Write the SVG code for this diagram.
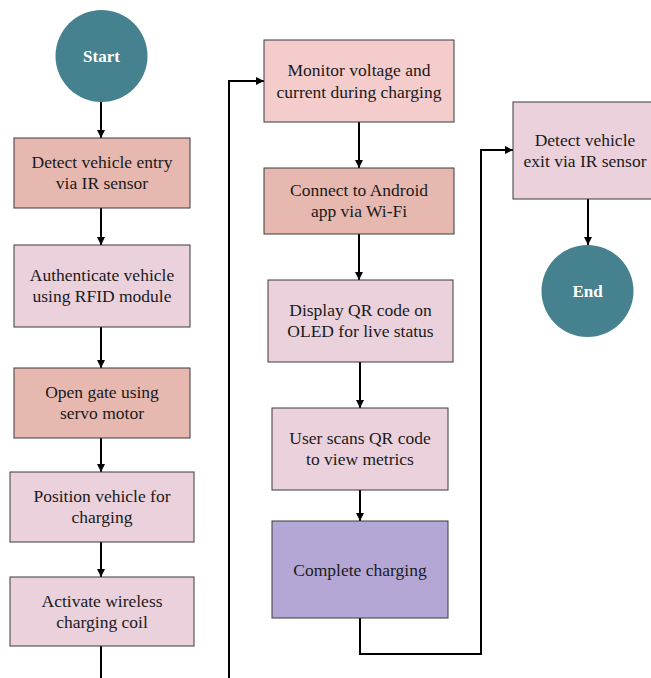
<svg xmlns="http://www.w3.org/2000/svg" width="651" height="678" viewBox="0 0 651 678">
<defs>
<style>
.box{stroke:#3a3a3a;stroke-width:1}
.dk{fill:#e6b8af}
.lt{fill:#ead1dc}
.mp{fill:#f4cccc}
.pu{fill:#b4a7d6}
.term{fill:#45818e}
.lbl{font-family:Tinos,"Liberation Serif","Times New Roman",Times,"DejaVu Serif",serif;font-size:17.5px;fill:#1a1a1a;text-anchor:middle}
.tt{font-family:Tinos,"Liberation Serif","Times New Roman",Times,"DejaVu Serif",serif;fill:#ffffff;font-weight:bold;font-size:17px;text-anchor:middle}
.c{fill:none;stroke:#000;stroke-width:2}
</style>
<marker id="ah" viewBox="0 0 10 10" refX="10" refY="5" markerWidth="8" markerHeight="8" markerUnits="userSpaceOnUse" orient="auto">
<path d="M0,0 L10,5 L0,10 z" fill="#000"/>
</marker>
</defs>
<rect width="651" height="678" fill="#ffffff"/>
<g id="connectors">
<path class="c" d="M101,100 V138" marker-end="url(#ah)"/>
<path class="c" d="M101,208 V245" marker-end="url(#ah)"/>
<path class="c" d="M101,327 V368" marker-end="url(#ah)"/>
<path class="c" d="M101,438 V472" marker-end="url(#ah)"/>
<path class="c" d="M101,542 V577" marker-end="url(#ah)"/>
<path class="c" d="M101,646 V678"/>
<path class="c" d="M229,678 V81 H264" marker-end="url(#ah)"/>
<path class="c" d="M359,122 V168" marker-end="url(#ah)"/>
<path class="c" d="M359,234 V280" marker-end="url(#ah)"/>
<path class="c" d="M360,362 V408" marker-end="url(#ah)"/>
<path class="c" d="M360,490 V521" marker-end="url(#ah)"/>
<path class="c" d="M360,618 V654 H481 V150 H513" marker-end="url(#ah)"/>
<path class="c" d="M588,199 V245" marker-end="url(#ah)"/>
</g>
<g id="start">
<circle class="term" cx="101.5" cy="56" r="46"/>
<text class="tt" x="101.5" y="62">Start</text>
</g>
<g id="detect-entry">
<rect class="box dk" x="14" y="138" width="176" height="70"/>
<text class="lbl" x="102" y="168">Detect vehicle entry</text>
<text class="lbl" x="102" y="189">via IR sensor</text>
</g>
<g id="authenticate">
<rect class="box lt" x="14" y="245" width="176" height="82"/>
<text class="lbl" x="102" y="281">Authenticate vehicle</text>
<text class="lbl" x="102" y="302">using RFID module</text>
</g>
<g id="open-gate">
<rect class="box dk" x="14" y="368" width="176" height="70"/>
<text class="lbl" x="102" y="398">Open gate using</text>
<text class="lbl" x="102" y="419">servo motor</text>
</g>
<g id="position">
<rect class="box lt" x="10" y="472" width="184" height="70"/>
<text class="lbl" x="102" y="502">Position vehicle for</text>
<text class="lbl" x="102" y="523">charging</text>
</g>
<g id="activate">
<rect class="box lt" x="10" y="577" width="184" height="69"/>
<text class="lbl" x="102" y="607">Activate wireless</text>
<text class="lbl" x="102" y="628">charging coil</text>
</g>
<g id="monitor">
<rect class="box mp" x="264" y="40" width="190" height="82"/>
<text class="lbl" x="359" y="76">Monitor voltage and</text>
<text class="lbl" x="359" y="98">current during charging</text>
</g>
<g id="connect">
<rect class="box dk" x="264" y="168" width="190" height="66"/>
<text class="lbl" x="359" y="196">Connect to Android</text>
<text class="lbl" x="359" y="217">app via Wi-Fi</text>
</g>
<g id="display">
<rect class="box lt" x="268" y="280" width="185" height="82"/>
<text class="lbl" x="360.5" y="316">Display QR code on</text>
<text class="lbl" x="360.5" y="337">OLED for live status</text>
</g>
<g id="user-scans">
<rect class="box lt" x="272" y="408" width="176" height="82"/>
<text class="lbl" x="360" y="444">User scans QR code</text>
<text class="lbl" x="360" y="465">to view metrics</text>
</g>
<g id="complete">
<rect class="box pu" x="272" y="521" width="176" height="97"/>
<text class="lbl" x="360" y="576">Complete charging</text>
</g>
<g id="detect-exit">
<rect class="box lt" x="513" y="102" width="146" height="97"/>
<text class="lbl" x="585" y="146">Detect vehicle</text>
<text class="lbl" x="585" y="167">exit via IR sensor</text>
</g>
<g id="end">
<circle class="term" cx="587.5" cy="291" r="46"/>
<text class="tt" x="587.5" y="297">End</text>
</g>
</svg>
